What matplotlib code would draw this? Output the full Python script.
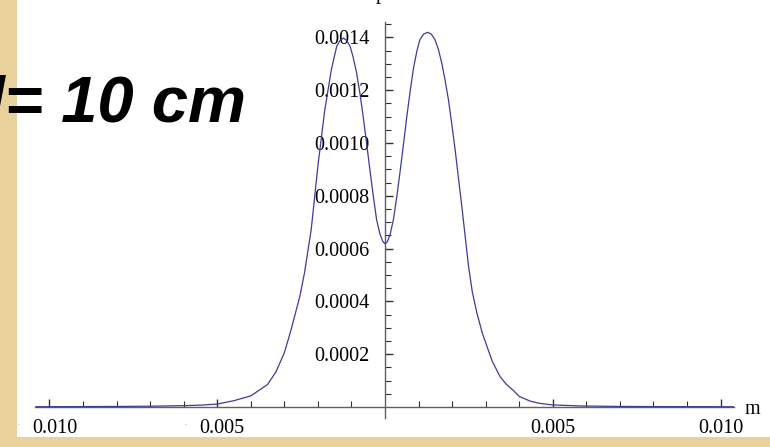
import matplotlib
matplotlib.use("Agg")
import matplotlib.pyplot as plt
from matplotlib.ticker import FixedLocator, NullFormatter
from matplotlib.patches import Rectangle

# ---- data ----
x_m = [-0.0104, -0.0090, -0.0080, -0.0070, -0.0060, -0.0055, -0.0050, -0.0045,
       -0.0040, -0.0035, -0.00325, -0.0030, -0.0028, -0.00254, -0.0024,
       -0.0022, -0.0020, -0.0018, -0.0016, -0.00144, -0.00134, -0.00124,
       -0.00114, -0.00104, -0.00095, -0.00085, -0.00075, -0.00065, -0.00055,
       -0.00045, -0.00035, -0.00025, -0.00015, -0.00007, 0.0,
       0.00007, 0.00015, 0.00025, 0.00035, 0.00045, 0.00055, 0.00065, 0.00075,
       0.00085, 0.00095, 0.00104, 0.00115, 0.00127, 0.00138, 0.00149, 0.00159,
       0.00169, 0.00179, 0.00189, 0.00199, 0.00209, 0.00219, 0.00229, 0.00239,
       0.00249, 0.0026, 0.00274, 0.0029, 0.00304, 0.0032, 0.00343, 0.0036,
       0.00383, 0.0040, 0.00433, 0.0046, 0.00498, 0.0058, 0.0070, 0.0080,
       0.0090, 0.0104]
p_val = [0.000001, 0.0000015, 0.000002, 0.000003, 0.000005, 0.000007,
         0.000011, 0.000024, 0.000042, 0.000085, 0.000133, 0.000205, 0.000292,
         0.000418, 0.000507, 0.000671, 0.000912, 0.00112, 0.001277, 0.001366,
         0.001388, 0.001397, 0.001388, 0.001366, 0.001325, 0.001268, 0.00119,
         0.00110, 0.001000, 0.000898, 0.000800, 0.000709, 0.000655, 0.000628,
         0.000618, 0.000626, 0.000652, 0.000709, 0.000795, 0.000892, 0.000995,
         0.00110, 0.001196, 0.001284, 0.001348, 0.001391, 0.001412, 0.001419,
         0.001412, 0.001391, 0.001355, 0.001303, 0.001238, 0.001164, 0.001072,
         0.000974, 0.000866, 0.000759, 0.000645, 0.000532, 0.000437, 0.000355,
         0.000280, 0.000229, 0.000172, 0.000115, 0.000088, 0.000062, 0.000040,
         0.000022, 0.000014, 0.000008, 0.000004, 0.000002, 0.0000016, 0.0000012,
         0.000001]

x_major = [-0.010, -0.005, 0.005, 0.010]
x_major_labels = ["0.010", "0.005", "0.005", "0.010"]
x_minor = [-0.009, -0.008, -0.007, -0.006, -0.004, -0.003, -0.002, -0.001,
           0.001, 0.002, 0.003, 0.004, 0.006, 0.007, 0.008, 0.009]
y_major = [0.0002, 0.0004, 0.0006, 0.0008, 0.0010, 0.0012, 0.0014]
y_major_labels = ["0.0002", "0.0004", "0.0006", "0.0008", "0.0010", "0.0012", "0.0014"]
y_minor = [0.00005, 0.0001, 0.00015, 0.00025, 0.0003, 0.00035, 0.00045, 0.0005,
           0.00055, 0.00065, 0.0007, 0.00075, 0.00085, 0.0009, 0.00095, 0.00105,
           0.0011, 0.00115, 0.00125, 0.0013, 0.00135, 0.00145]

title_text = "d= 10 cm"

W, H = 770, 447
fig = plt.figure(figsize=(W / 100, H / 100), dpi=100)
parch = "#e9d19c"
fig.patch.set_facecolor(parch)
# white panel
fig.add_artist(Rectangle((17 / W, (H - 437) / H), 1 - 17 / W, 437 / H,
                         transform=fig.transFigure, facecolor="white",
                         edgecolor="none", zorder=0))

ax = fig.add_axes([35 / W, (H - 418) / H, 699 / W, (418 - 22) / H])
ax.set_facecolor("none")
ax.set_xlim(-0.01043, 0.0104)
ax.set_ylim(-0.0000417, 0.001458)

for s in ["top", "right"]:
    ax.spines[s].set_visible(False)
ax.spines["left"].set_position(("data", 0))
ax.spines["bottom"].set_position(("data", 0))
for s in ["left", "bottom"]:
    ax.spines[s].set_color("#606060")
    ax.spines[s].set_linewidth(1.0)

serif = ["Liberation Serif", "DejaVu Serif"]
fs = 14.5

ax.xaxis.set_major_locator(FixedLocator(x_major))
ax.xaxis.set_minor_locator(FixedLocator(x_minor))
ax.xaxis.set_major_formatter(NullFormatter())
ax.yaxis.set_major_locator(FixedLocator(y_major))
ax.yaxis.set_minor_locator(FixedLocator(y_minor))
ax.set_yticklabels(y_major_labels, family=serif, fontsize=fs)
ax.tick_params(axis="x", which="major", direction="in", length=6, width=1, color="#303030")
ax.tick_params(axis="x", which="minor", direction="in", length=4, width=0.8, color="#303030")
ax.tick_params(axis="y", which="major", direction="in", length=6, width=1,
               color="#303030", pad=11)
ax.tick_params(axis="y", which="minor", direction="in", length=4, width=0.8,
               color="#303030")

# x tick labels (negative ones with faint minus sign)
for xv, lab in zip(x_major, x_major_labels):
    if xv < 0:
        ax.annotate(lab, xy=(xv, 0), xytext=(5, -12), textcoords="offset pixels",
                    ha="center", va="top", family=serif, fontsize=fs, color="black")
        ax.annotate("-", xy=(xv, 0), xytext=(-31, -18), textcoords="offset pixels",
                    ha="center", va="center", family=serif, fontsize=4, color="#999999")
    else:
        ax.annotate(lab, xy=(xv, 0), xytext=(0, -12), textcoords="offset pixels",
                    ha="center", va="top", family=serif, fontsize=fs, color="black")

ax.plot(x_m, p_val, color="#3c3c9c", linewidth=0.9, zorder=3,
        solid_joinstyle="round")

# axis labels
fig.text(745 / W, 1 - 410 / H, "m", family=serif, fontsize=fs, ha="left", va="center")
fig.text(381 / W, 1 + 1 / H, "p", family=serif, fontsize=fs, ha="center", va="baseline")

fig.text(246 / W, 1 - 122 / H, title_text, family=["Liberation Sans", "DejaVu Sans"],
         fontsize=47, fontweight="bold", fontstyle="italic", ha="right",
         va="baseline", color="black")

fig.savefig("out.png", dpi=100, facecolor=fig.get_facecolor())
